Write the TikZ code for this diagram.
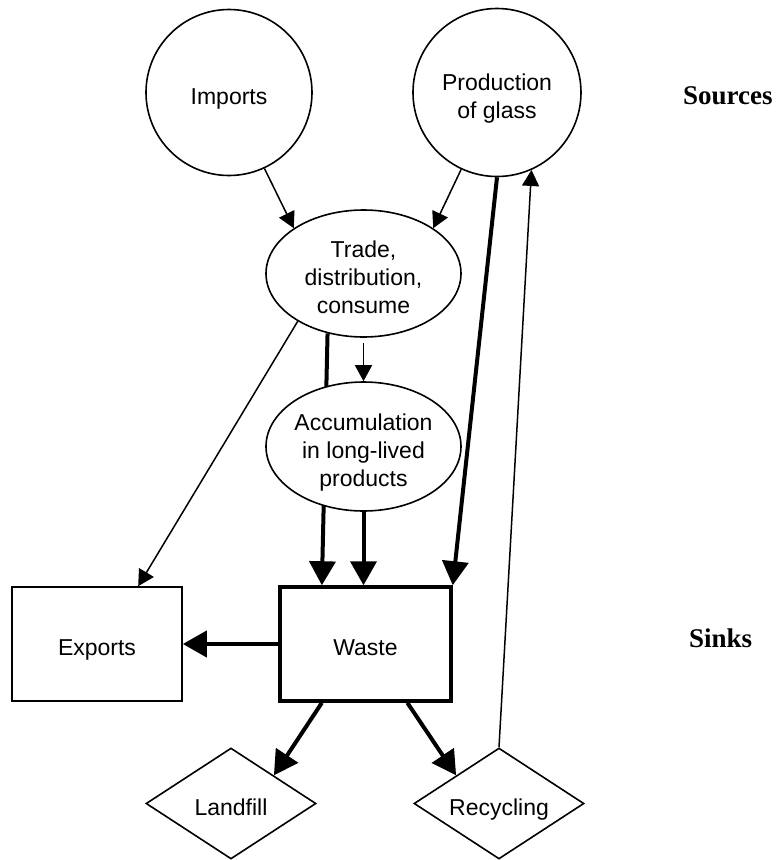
\documentclass[tikz,border=0pt]{standalone}
\usepackage{fontspec}
\setmainfont{Liberation Sans}
\newfontfamily\headfont{Liberation Serif}
\usetikzlibrary{arrows.meta,shapes.geometric,calc,backgrounds}

\begin{document}
\begin{tikzpicture}[x=1pt,y=-1pt,
  every node/.style={font=\fontsize{23}{28}\selectfont},
  % shared look of the flow-chart boxes
  basebox/.style={draw,line width=1.6pt,fill=white,inner sep=0pt,align=center,text depth=0pt},
  oneline/.style={text height=23pt},
  twolines/.style={text height=51pt},
  threelines/.style={text height=79pt},
  srcnode/.style={basebox,circle},
  procnode/.style={basebox,ellipse,minimum width=195pt},
  sinknode/.style={basebox,rectangle,minimum width=170pt,minimum height=114pt,oneline},
  endnode/.style={basebox,diamond,aspect=1.5,minimum width=170pt,minimum height=111pt,oneline},
  headlabel/.style={font=\headfont\bfseries\fontsize{27}{32}\selectfont,inner sep=0pt,anchor=base west},
  flowthin/.style={line width=1.5pt,-{Triangle[length=16pt,width=17pt]}},
  flowthick/.style={line width=4pt,-{Triangle[length=24pt,width=26pt]}}
]
\useasboundingbox (0,0) rectangle (778,860);

% sources
\node[srcnode,minimum size=166pt,oneline] (imp) at (229,92.5) {Imports};
\node[srcnode,minimum size=168pt,twolines] (prod) at (497,92.5) {Production\\of glass};

% processes
\node[procnode,minimum height=127pt,threelines] (trade) at (363.5,273.5) {Trade,\\distribution,\\consume};
\node[procnode,minimum height=129pt,threelines,inner xsep=-2pt] (accum) at (363.5,446.5) {Accumulation\\in long-lived\\products};

% sinks
\node[sinknode,line width=3.5pt,minimum width=171pt] (waste) at (365.5,644) {Waste};
\node[sinknode] (exp) at (97,644) {Exports};
\node[endnode] (land) at (231,803.5) {Landfill};
\node[endnode] (rec) at (499,803.5) {Recycling};

% column labels
\node[headlabel] (srclabel) at (683,104) {Sources};
\node[headlabel] (sinklabel) at (689,647) {Sinks};

% direct flow from trade to waste, passing behind the accumulation stock
\begin{pgfonlayer}{background}
  \draw[flowthick] (trade.-121) -- ($(waste.north west)!0.25!(waste.north east)$);
\end{pgfonlayer}

% flows
\draw[flowthin] (imp.-65) -- (trade.147);
\draw[flowthin] (prod.-115) -- (trade.33);
\draw[flowthick] (prod.south) -- (waste.north east);
\draw[flowthin] (rec.north) -- (prod.-66);
\draw[flowthin,shorten <=5pt] (trade.south) -- (accum.north);
\draw[flowthin] (trade.-144) -- ($(exp.north west)!0.74!(exp.north east)$);
\draw[flowthick] (accum.south) -- (accum.south |- waste.north);
\draw[flowthick] (waste.west) -- (exp.east);
\draw[flowthick] ($(waste.south west)!0.25!(waste.south east)$) -- ($(land.north)!0.5!(land.east)$);
\draw[flowthick] ($(waste.south west)!0.74!(waste.south east)$) -- ($(rec.north)!0.5!(rec.west)$);
\end{tikzpicture}
\end{document}
